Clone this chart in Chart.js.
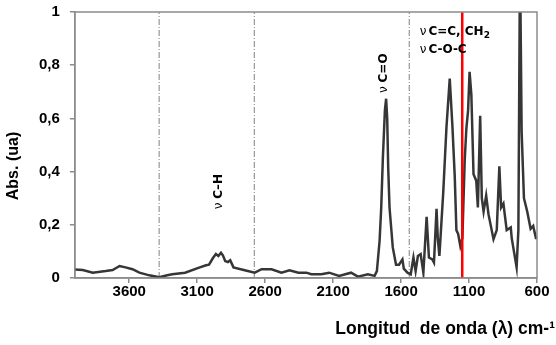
<!DOCTYPE html>
<html>
<head>
<meta charset="utf-8">
<script src="https://cdn.jsdelivr.net/npm/chart.js@4.4.1/dist/chart.umd.min.js"></script>
<style>
  html, body { margin: 0; padding: 0; background: #fff; }
</style>
</head>
<body>
<canvas id="ftir" width="556" height="345"></canvas>
<script>
// wavenumber (cm-1) and absorbance
var waveNumbers = [4000, 3942, 3868, 3773, 3722, 3671, 3627, 3576, 3525, 3452, 3379, 3320, 3284, 3189, 3086, 3035, 3013, 2984, 2962, 2944, 2925, 2911, 2894, 2874, 2857, 2833, 2750, 2677, 2626, 2553, 2480, 2421, 2355, 2297, 2260, 2187, 2129, 2056, 1968, 1917, 1844, 1795, 1778, 1758, 1746, 1734, 1719, 1710, 1702, 1695, 1685, 1661, 1637, 1615, 1590, 1580, 1553, 1529, 1509, 1493, 1476, 1456, 1436, 1412, 1395, 1370, 1358, 1339, 1330, 1318, 1290, 1266, 1242, 1222, 1205, 1193, 1180, 1164, 1149, 1132, 1120, 1107, 1096, 1083, 1067, 1047, 1035, 1018, 1006, 993, 974, 957, 920, 896, 877, 864, 847, 823, 793, 786, 750, 737, 725, 713, 696, 672, 647, 628, 608, 600];
var absorbance = [0.032, 0.03, 0.02, 0.026, 0.03, 0.045, 0.04, 0.033, 0.02, 0.01, 0.003, 0.01, 0.014, 0.02, 0.039, 0.048, 0.05, 0.075, 0.09, 0.083, 0.095, 0.085, 0.064, 0.06, 0.067, 0.04, 0.029, 0.02, 0.033, 0.033, 0.02, 0.029, 0.02, 0.02, 0.014, 0.014, 0.02, 0.008, 0.02, 0.005, 0.014, 0.008, 0.026, 0.14, 0.265, 0.45, 0.63, 0.674, 0.6, 0.42, 0.265, 0.115, 0.05, 0.05, 0.07, 0.035, 0.02, 0.014, 0.077, 0.026, 0.083, 0.09, 0.02, 0.23, 0.077, 0.07, 0.058, 0.26, 0.15, 0.083, 0.32, 0.567, 0.75, 0.567, 0.38, 0.18, 0.165, 0.12, 0.15, 0.44, 0.56, 0.63, 0.775, 0.69, 0.39, 0.366, 0.265, 0.61, 0.3, 0.25, 0.31, 0.24, 0.146, 0.18, 0.42, 0.265, 0.28, 0.18, 0.19, 0.15, 0.04, 0.18, 1.2, 0.55, 0.3, 0.25, 0.185, 0.196, 0.15, 0.15];

var xTicks = [3600, 3100, 2600, 2100, 1600, 1100, 600];
var yTicks = [0, 0.2, 0.4, 0.6, 0.8, 1];
var yTickLabels = ["0", "0,2", "0,4", "0,6", "0,8", "1"];

var regionLines = [3380, 2680, 1540];   // dash-dot separators
var markerLine = 1150;                    // red line

// band labels: [wavenumber, absorbance, text]
var bands = [
  [2942, 0.325, "C\u2013H"],
  [1727, 0.77, "C=O"]
];

var spectrum = waveNumbers.map(function (w, i) { return { x: w, y: absorbance[i] }; });

var datasets = [{
  data: spectrum,
  borderColor: "#363636",
  borderWidth: 2.5,
  pointRadius: 0,
  tension: 0,
  order: 1
}];
regionLines.forEach(function (v) {
  datasets.push({
    data: [{ x: v, y: 0 }, { x: v, y: 1 }],
    borderColor: "#808080",
    borderWidth: 1,
    borderDash: [6, 2, 1, 2],
    pointRadius: 0,
    order: 2
  });
});
datasets.push({
  data: [{ x: markerLine, y: 0 }, { x: markerLine, y: 1 }],
  borderColor: "#ff0000",
  borderWidth: 2.5,
  pointRadius: 0,
  order: 0
});

var extras = {
  id: "extras",
  afterDatasetsDraw: function (chart) {
    var c = chart.ctx, a = chart.chartArea;
    var xs = chart.scales.x, ys = chart.scales.y;
    c.save();
    // frame
    c.strokeStyle = "#8c8c8c";
    c.lineWidth = 1.5;
    c.strokeRect(a.left, a.top, a.right - a.left, a.bottom - a.top);

    c.fillStyle = "#000";
    // rotated band labels
    bands.forEach(function (b) {
      c.save();
      c.translate(xs.getPixelForValue(b[0]), ys.getPixelForValue(b[1]));
      c.rotate(-Math.PI / 2);
      c.textBaseline = "middle";
      c.textAlign = "left";
      c.font = "12px 'DejaVu Sans'";
      var wn = c.measureText("\u03bd ").width;
      c.font = "bold 12px 'DejaVu Sans'";
      var w = c.measureText(b[2]).width;
      var x0 = -(w + wn) / 2;
      c.font = "12px 'DejaVu Sans'";
      c.fillText("\u03bd ", x0, 0);
      c.font = "bold 12px 'DejaVu Sans'";
      c.fillText(b[2], x0 + wn, 0);
      c.restore();
    });

    // horizontal band labels
    var lx = xs.getPixelForValue(1463);
    var y1 = ys.getPixelForValue(0.925), y2 = ys.getPixelForValue(0.857);
    c.textAlign = "left";
    c.textBaseline = "middle";
    c.font = "12px 'DejaVu Sans'";
    var wn = c.measureText("\u03bd").width + 2;
    c.fillText("\u03bd", lx, y1);
    c.fillText("\u03bd", lx, y2);
    c.font = "bold 12px 'DejaVu Sans'";
    c.fillText("C=C, CH", lx + wn, y1);
    var wc = c.measureText("C=C, CH").width;
    c.font = "bold 9px 'DejaVu Sans'";
    c.fillText("2", lx + wn + wc, y1 + 4);
    c.font = "bold 12px 'DejaVu Sans'";
    c.fillText("C-O-C", lx + wn, y2);

    // axis titles
    c.font = "bold 17.5px 'Liberation Sans', Arial, sans-serif";
    c.textAlign = "right";
    c.textBaseline = "alphabetic";
    c.fillText("Longitud  de onda (\u03bb) cm-\u00b9", 555, 334);
    c.font = "bold 16px 'Liberation Sans', Arial, sans-serif";
    c.save();
    c.translate(14, 166);
    c.rotate(-Math.PI / 2);
    c.textAlign = "center";
    c.textBaseline = "middle";
    c.fillText("Abs. (ua)", 0, 0);
    c.restore();
    c.restore();
  }
};

new Chart(document.getElementById("ftir"), {
  type: "line",
  data: { datasets: datasets },
  options: {
    responsive: false,
    animation: false,
    devicePixelRatio: 1,
    layout: { padding: { left: 36, right: 19, top: 4, bottom: 44 } },
    plugins: { legend: { display: false }, tooltip: { enabled: false } },
    scales: {
      x: {
        type: "linear",
        reverse: true,
        min: 600,
        max: 4000,
        afterBuildTicks: function (axis) { axis.ticks = xTicks.map(function (v) { return { value: v }; }); },
        ticks: {
          color: "#000",
          font: { family: "'Liberation Sans', Arial", size: 15, weight: "bold" },
          padding: 0,
          maxRotation: 0,
          autoSkip: false,
          callback: function (v) { return String(v); }
        },
        grid: { drawOnChartArea: false, tickLength: 5, color: "#8c8c8c", lineWidth: 1.5 },
        border: { color: "#8c8c8c", width: 1.5 }
      },
      y: {
        min: 0,
        max: 1,
        afterBuildTicks: function (axis) { axis.ticks = yTicks.map(function (v) { return { value: v }; }); },
        ticks: {
          color: "#000",
          font: { family: "'Liberation Sans', Arial", size: 15, weight: "bold" },
          padding: 3,
          callback: function (v, i) { return yTickLabels[i]; }
        },
        // long tick slot, only the 5px next to the axis is drawn
        grid: { drawOnChartArea: false, tickLength: 12, tickBorderDash: [5, 7], tickBorderDashOffset: 5, color: "#8c8c8c", lineWidth: 1.5 },
        border: { color: "#8c8c8c", width: 1.5 }
      }
    }
  },
  plugins: [extras]
});
</script>
</body>
</html>
